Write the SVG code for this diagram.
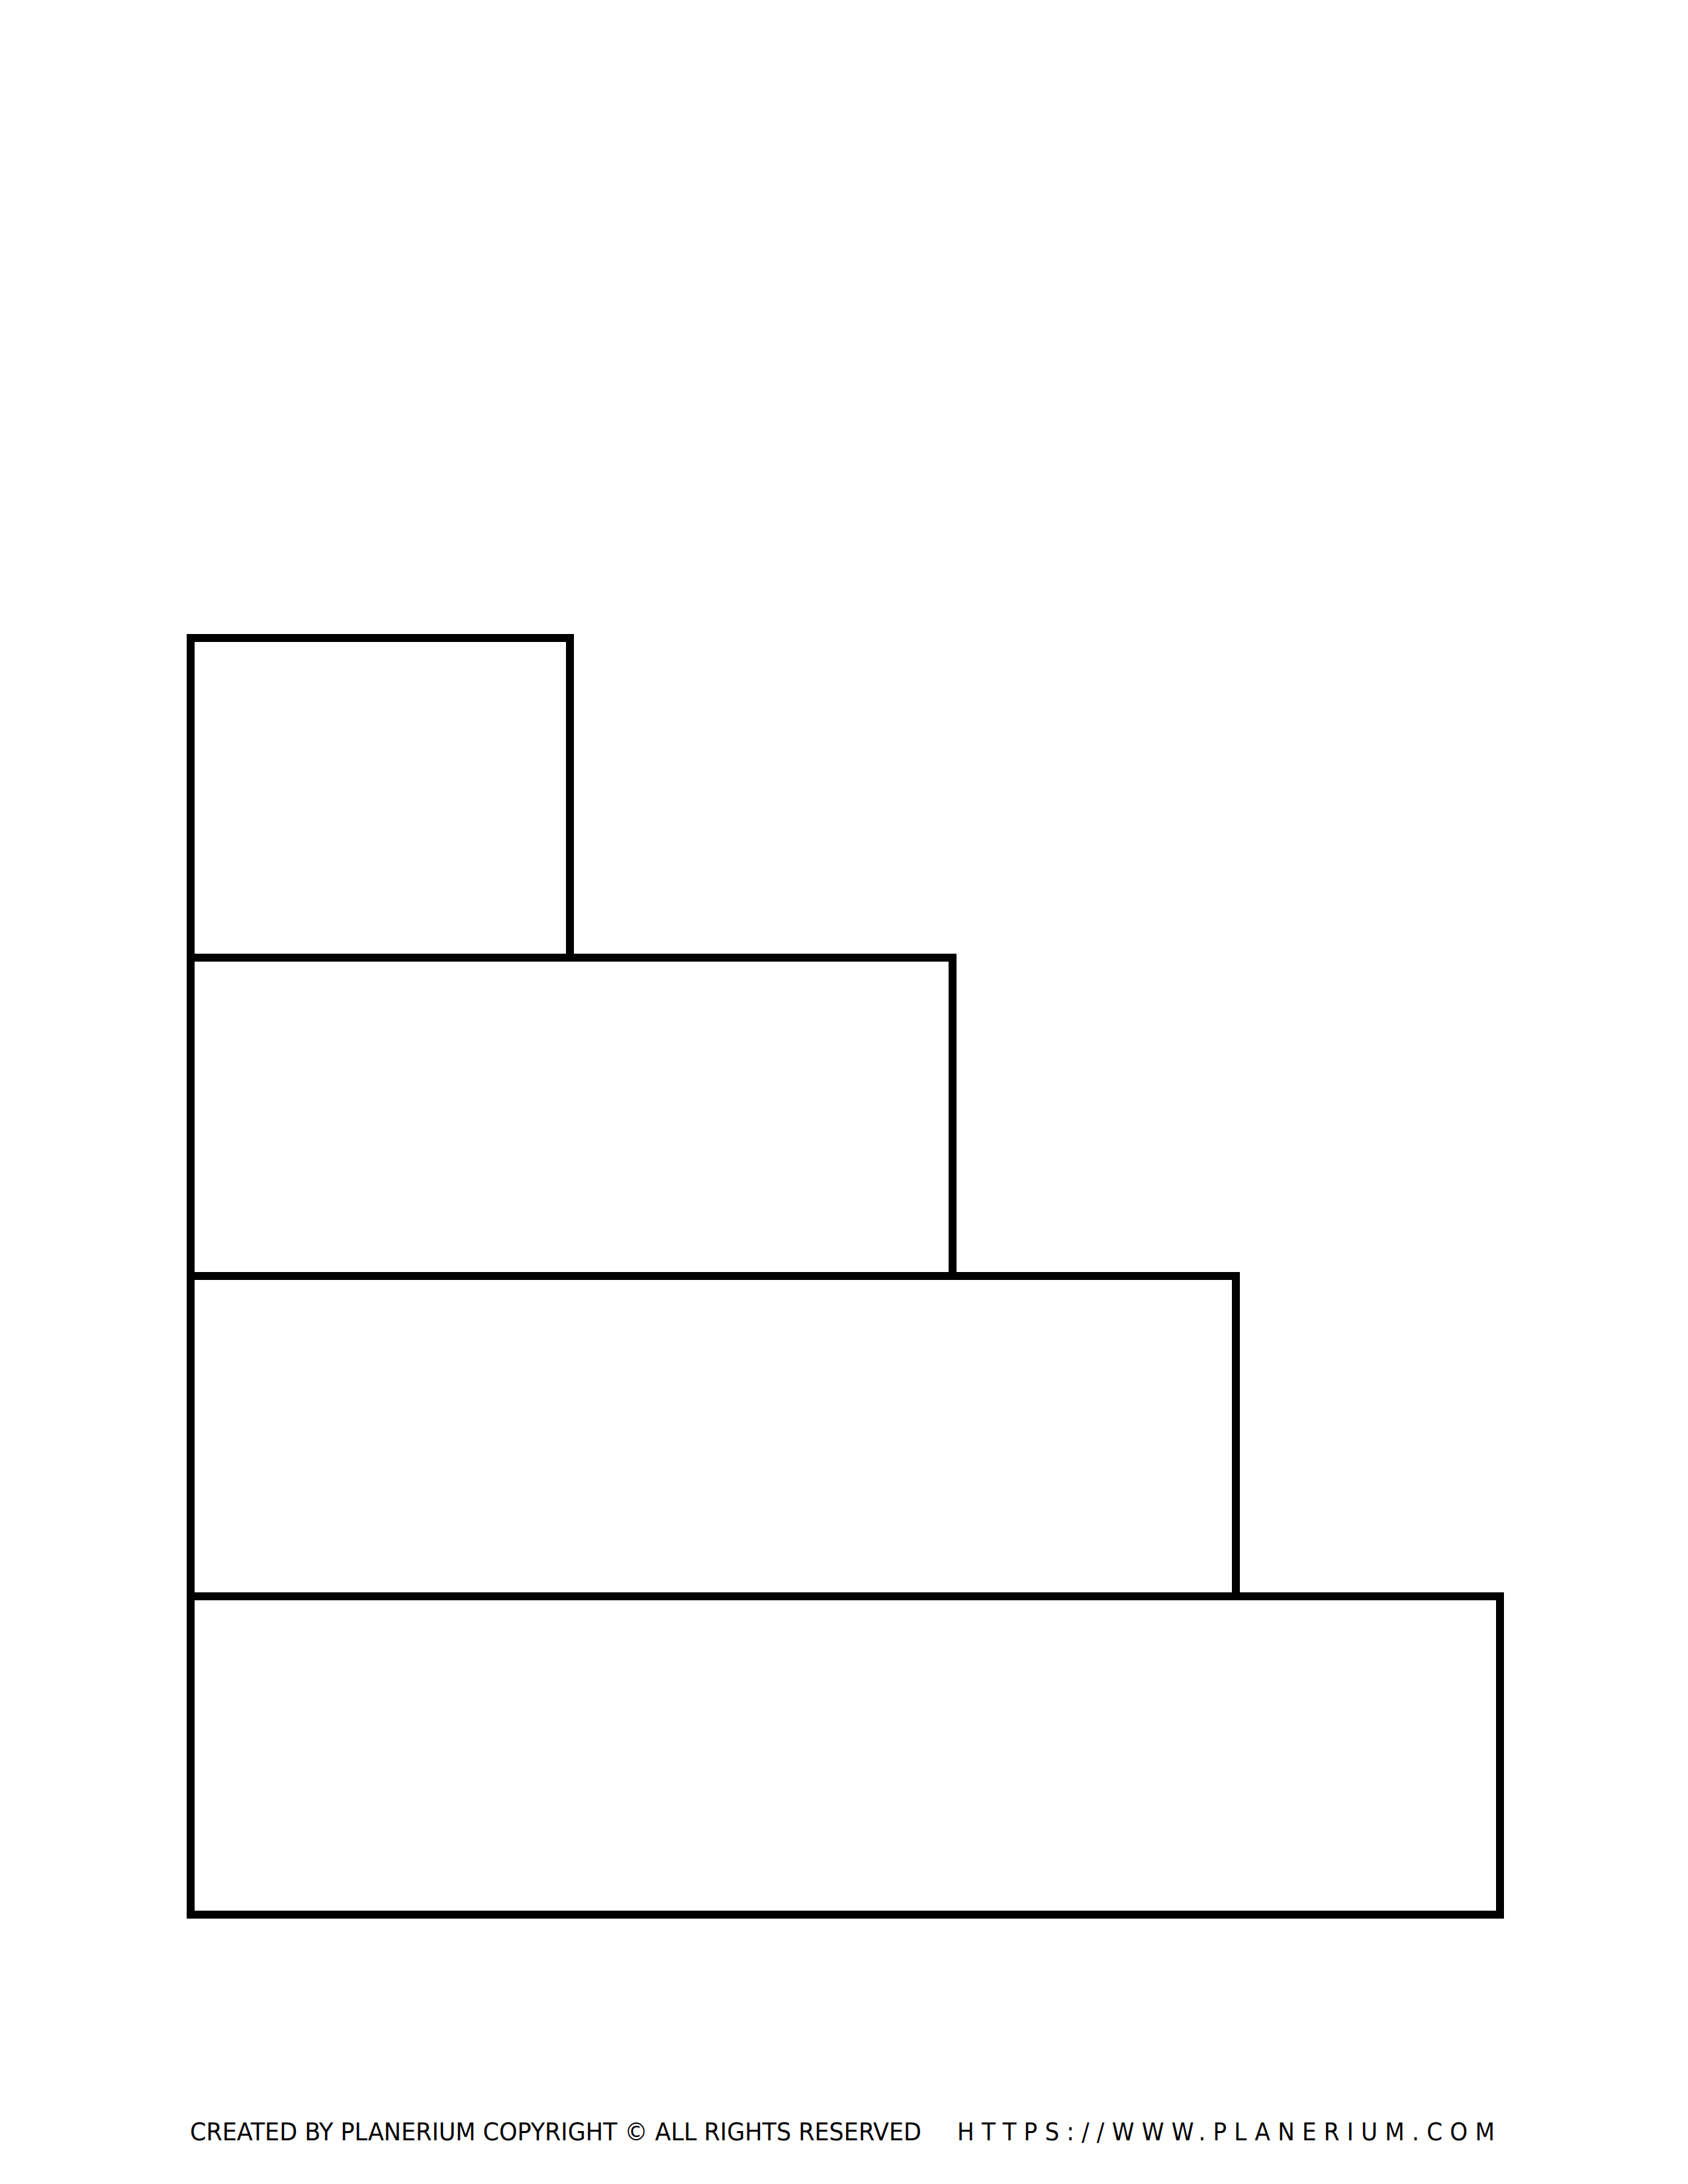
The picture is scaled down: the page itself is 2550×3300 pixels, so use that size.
<svg xmlns="http://www.w3.org/2000/svg" width="2550" height="3300" viewBox="0 0 2550 3300">
<style>
.box{fill:none;stroke:#000;stroke-width:12;stroke-linejoin:miter}
.foot{font-family:"DejaVu Sans Condensed","Liberation Sans",sans-serif;font-size:38px;fill:#000}
</style>
<rect width="2550" height="3300" fill="#fff"/>
<g id="step1"><rect class="box" x="288" y="964" width="573" height="483"/></g>
<g id="step2"><rect class="box" x="288" y="1447" width="1151" height="481"/></g>
<g id="step3"><rect class="box" x="288" y="1928" width="1579" height="484"/></g>
<g id="step4"><rect class="box" x="288" y="2412" width="1978" height="481"/></g>
<g id="footer">
<text class="foot" x="287" y="3234" textLength="1105" lengthAdjust="spacingAndGlyphs">CREATED BY PLANERIUM COPYRIGHT © ALL RIGHTS RESERVED</text>
<text class="foot" x="1446" y="3234" textLength="812" lengthAdjust="spacing">HTTPS://WWW.PLANERIUM.COM</text>
</g>
</svg>
